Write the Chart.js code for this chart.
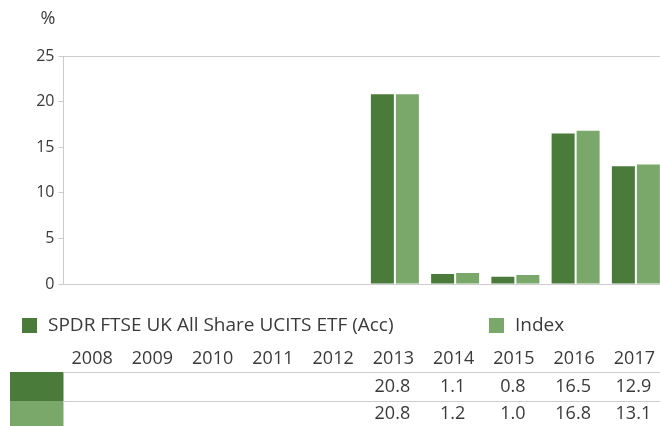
<!DOCTYPE html>
<html>
<head>
<meta charset="utf-8">
<script src="https://cdn.jsdelivr.net/npm/chart.js@4/dist/chart.umd.min.js"></script>
<style>
html,body{margin:0;padding:0;background:#fff;overflow:hidden;width:660px;height:426px;}
canvas{display:block;}
</style>
</head>
<body>
<canvas id="c" width="666" height="426"></canvas>
<script>
const years = ['2008','2009','2010','2011','2012','2013','2014','2015','2016','2017'];
const etfValues = [null,null,null,null,null,20.8,1.1,0.8,16.5,12.9];
const indexValues = [null,null,null,null,null,20.8,1.2,1.0,16.8,13.1];
const seriesNames = ['SPDR FTSE UK All Share UCITS ETF (Acc)','Index'];
const seriesColors = ['#4a7b3a','#7aa86b'];
const yTicks = [0,5,10,15,20,25];
const unitLabel = '%';

const FONT = '"Open Sans", "Noto Sans", sans-serif';
const TEXT = '#3a3a3a';
const LINE = '#cccccc';

const overlay = {
  id: 'overlay',
  afterDraw(chart) {
    const ctx = chart.ctx;
    const xs = chart.scales.x;
    const area = chart.chartArea;
    ctx.save();
    // unit label
    ctx.fillStyle = TEXT;
    ctx.font = '18px ' + FONT;
    ctx.textAlign = 'center';
    ctx.textBaseline = 'middle';
    ctx.fillText(unitLabel, 48, 19);

    // legend
    ctx.font = '19px ' + FONT;
    ctx.textAlign = 'left';
    ctx.fillStyle = seriesColors[0];
    ctx.fillRect(22, 318, 15, 15);
    ctx.fillStyle = TEXT;
    ctx.fillText(seriesNames[0], 48, 326);
    ctx.fillStyle = seriesColors[1];
    ctx.fillRect(489, 318, 15, 15);
    ctx.fillStyle = TEXT;
    ctx.fillText(seriesNames[1], 515, 326);

    // table
    ctx.font = '18px ' + FONT;
    ctx.textAlign = 'center';
    years.forEach((y, i) => {
      ctx.fillText(y, xs.getPixelForValue(i) - 1.5, 359);
    });
    ctx.fillStyle = seriesColors[0];
    ctx.fillRect(10, 372, area.left - 10, 29);
    ctx.fillStyle = seriesColors[1];
    ctx.fillRect(10, 401, area.left - 10, 25);
    ctx.strokeStyle = LINE;
    ctx.lineWidth = 1;
    ctx.beginPath();
    ctx.moveTo(area.left, 372.5); ctx.lineTo(chart.width, 372.5);
    ctx.moveTo(area.left, 401.5); ctx.lineTo(chart.width, 401.5);
    ctx.stroke();
    ctx.fillStyle = TEXT;
    [etfValues, indexValues].forEach((arr, r) => {
      const yy = r === 0 ? 387 : 414;
      arr.forEach((v, i) => {
        if (v === null) return;
        ctx.fillText(v.toFixed(1), xs.getPixelForValue(i) - 2.5, yy);
      });
    });
    ctx.restore();
  }
};

new Chart(document.getElementById('c'), {
  type: 'bar',
  data: {
    labels: years,
    datasets: [
      { label: seriesNames[0], data: etfValues, backgroundColor: seriesColors[0] },
      { label: seriesNames[1], data: indexValues, backgroundColor: seriesColors[1] }
    ]
  },
  options: {
    responsive: false,
    animation: false,
    devicePixelRatio: 1,
    layout: { padding: { top: 56, bottom: 142, left: 0, right: 0 } },
    datasets: { bar: { categoryPercentage: 0.83, barPercentage: 0.92 } },
    plugins: { legend: { display: false }, tooltip: { enabled: false } },
    scales: {
      x: {
        grid: { display: false },
        ticks: { display: false },
        border: { display: true, color: LINE, width: 1 },
        afterFit(s) { s.height = 0; }
      },
      y: {
        min: 0, max: 25,
        afterBuildTicks(s) { s.ticks = yTicks.map(v => ({ value: v })); },
        afterFit(s) { s.width = 63.5; },
        ticks: { color: TEXT, font: { family: FONT, size: 16 }, padding: 4 },
        grid: {
          color: c => (c.tick && c.tick.value === 25) ? LINE : 'rgba(0,0,0,0)',
          tickColor: LINE,
          tickLength: 5
        },
        border: { display: true, color: LINE, width: 1 }
      }
    }
  },
  plugins: [overlay]
});
</script>
</body>
</html>
